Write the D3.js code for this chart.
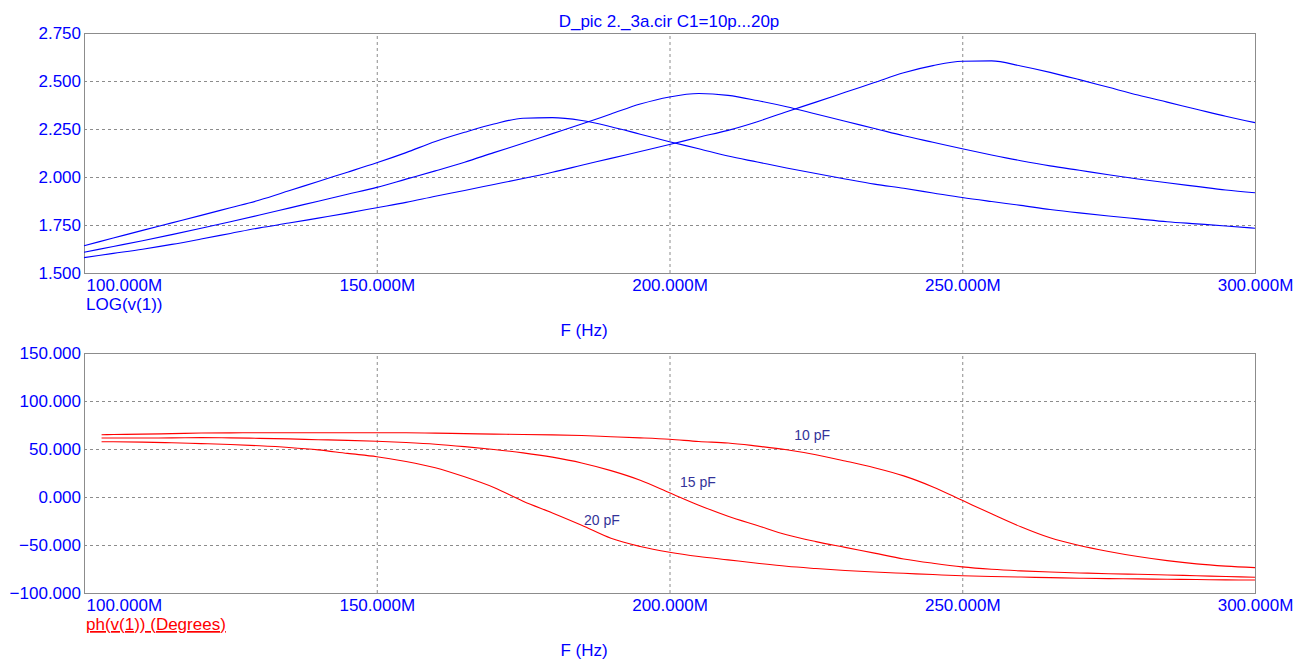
<!DOCTYPE html>
<html>
<head>
<meta charset="utf-8">
<script src="https://cdn.jsdelivr.net/npm/d3@7"></script>
<style>
    body { margin: 0; background: #fff; }
    svg { display: block; font-family: "Liberation Sans", Arial, sans-serif; }
</style>
</head>
<body>
<svg id="chart" width="1296" height="659"></svg>
<script>
/**
 * Data.
 */
const title = 'D_pic 2._3a.cir C1=10p...20p';

// Frequency in MHz
const freqMag = [100, 105, 110, 115, 120, 125, 130, 135, 140, 145, 150, 155, 160, 165, 170, 175, 180, 185, 190, 195,
    200, 205, 210, 215, 220, 225, 230, 235, 240, 245, 250, 255, 260, 265, 270, 275, 280, 285, 290, 295, 300];
const freqPhase = [103, 105, 110, 115, 120, 125, 130, 135, 140, 145, 150, 155, 160, 165, 170, 175, 180, 185, 190, 195,
    200, 205, 210, 215, 220, 225, 230, 235, 240, 245, 250, 255, 260, 265, 270, 275, 280, 285, 290, 295, 300];

// LOG(v(1))
const mag10 = [1.580, 1.602, 1.624, 1.649, 1.677, 1.706, 1.735, 1.760, 1.786, 1.812, 1.840, 1.868, 1.900, 1.930, 1.961,
    1.992, 2.025, 2.061, 2.097, 2.133, 2.169, 2.207, 2.243, 2.288, 2.340, 2.390, 2.441, 2.492, 2.543, 2.580, 2.603,
    2.605, 2.578, 2.545, 2.507, 2.467, 2.427, 2.390, 2.353, 2.316, 2.283];
const mag15 = [1.608, 1.638, 1.668, 1.700, 1.733, 1.767, 1.802, 1.838, 1.874, 1.910, 1.946, 1.989, 2.032, 2.077, 2.127,
    2.176, 2.226, 2.276, 2.328, 2.380, 2.417, 2.435, 2.425, 2.398, 2.366, 2.328, 2.290, 2.253, 2.215, 2.181, 2.147,
    2.115, 2.085, 2.058, 2.035, 2.012, 1.990, 1.970, 1.951, 1.932, 1.918];
const mag20 = [1.642, 1.682, 1.722, 1.761, 1.800, 1.840, 1.880, 1.928, 1.977, 2.025, 2.074, 2.127, 2.185, 2.233, 2.276,
    2.306, 2.309, 2.294, 2.262, 2.223, 2.184, 2.147, 2.109, 2.078, 2.047, 2.018, 1.990, 1.963, 1.941, 1.917, 1.893,
    1.872, 1.852, 1.831, 1.813, 1.797, 1.782, 1.767, 1.756, 1.745, 1.733];

// ph(v(1)) in degrees
const phase10 = [64.9, 65.1, 65.5, 66.0, 66.6, 66.8, 67.0, 67.0, 67.0, 67.0, 67.0, 66.9, 66.5, 66.0, 65.5, 65.1, 64.7,
    64.0, 62.8, 61.6, 60.1, 57.8, 56.3, 53.0, 49.2, 44.0, 37.5, 30.5, 22.0, 10.5, -3.5, -17.5, -31.0, -42.5, -50.5,
    -56.7, -62.0, -66.3, -69.7, -72.0, -73.6];
const phase15 = [61.5, 61.5, 61.5, 61.6, 61.8, 61.6, 61.1, 60.5, 59.7, 59.0, 58.0, 56.7, 55.0, 52.5, 49.5, 46.0, 41.5,
    35.5, 27.5, 17.5, 4.5, -8.5, -20.0, -29.7, -39.4, -46.5, -52.5, -58.5, -64.5, -69.0, -72.8, -75.3, -77.0, -78.2,
    -79.1, -79.9, -80.5, -81.2, -82.0, -82.8, -83.6];
const phase20 = [57.6, 57.5, 57.2, 56.5, 55.6, 54.7, 53.4, 51.6, 49.1, 45.4, 42.0, 37.0, 30.5, 21.0, 9.9, -4.4, -16.6,
    -29.4, -43.0, -51.5, -57.5, -62.0, -65.5, -69.0, -72.2, -74.5, -76.5, -78.2, -79.5, -80.8, -82.0, -82.8, -83.4,
    -84.0, -84.6, -85.0, -85.3, -85.7, -86.0, -86.3, -86.5];

// Ticks
const freqTicks = [100, 150, 200, 250, 300];
const magTicks = [1.5, 1.75, 2.0, 2.25, 2.5, 2.75];
const phaseTicks = [-100, -50, 0, 50, 100, 150];

// Curve annotations: [label, freq, phase]
const annotations = [['10 pF', 221.3, 59.4], ['15 pF', 201.8, 10.4], ['20 pF', 185.4, -29.2]];

/**
 * Visual configs.
 */
const left = 84, right = 1255,
    blue = '#0000ff', red = '#ff0000', frameColor = '#8c8c8c', gridColor = '#8c8c8c',
    fontSize = 17;

const svg = d3.select('#chart');

const xScale = d3.scaleLinear().domain([100, 300]).range([left, right]);

svg.append('text')
    .attr('x', 669).attr('y', 27)
    .attr('text-anchor', 'middle')
    .attr('fill', blue)
    .style('font-size', '17px')
    .text(title);

/**
 * Draws one plot panel with frame, grid, ticks and curves.
 */
function drawPanel(opts) {
    const yScale = d3.scaleLinear().domain(opts.domain).range([opts.bottom, opts.top]);
    const height = opts.bottom - opts.top;
    const g = svg.append('g');

    // Grid
    g.append('g')
        .attr('transform', 'translate(0,' + opts.bottom + ')')
        .call(d3.axisBottom(xScale).tickValues(freqTicks.slice(1, -1)).tickSize(-height).tickFormat(''))
        .call(s => s.select('.domain').remove())
        .call(s => s.selectAll('line').attr('stroke', gridColor).attr('stroke-dasharray', '3,3'));
    g.append('g')
        .attr('transform', 'translate(' + left + ',0)')
        .call(d3.axisLeft(yScale).tickValues(opts.ticks.slice(1, -1)).tickSize(-(right - left)).tickFormat(''))
        .call(s => s.select('.domain').remove())
        .call(s => s.selectAll('line').attr('stroke', gridColor).attr('stroke-dasharray', '3,3'));

    // Frame
    g.append('rect')
        .attr('x', left + 0.5).attr('y', opts.top + 0.5)
        .attr('width', right - left).attr('height', height)
        .attr('fill', 'none').attr('stroke', frameColor);

    // Y tick labels
    g.append('g')
        .attr('transform', 'translate(' + left + ',0)')
        .call(d3.axisLeft(yScale).tickValues(opts.ticks).tickSize(0).tickPadding(3).tickFormat(d3.format('.3f')))
        .call(s => s.select('.domain').remove())
        .call(s => s.selectAll('text')
            .attr('fill', blue)
            .style('font-family', '"Liberation Sans", Arial, sans-serif')
            .style('font-size', fontSize + 'px'));

    // X tick labels
    g.append('g')
        .attr('transform', 'translate(0,' + opts.bottom + ')')
        .call(d3.axisBottom(xScale).tickValues(freqTicks).tickSize(0).tickPadding(6).tickFormat(d => d3.format('.3f')(d) + 'M'))
        .call(s => s.select('.domain').remove())
        .call(s => s.selectAll('text')
            .attr('fill', blue)
            .style('font-family', '"Liberation Sans", Arial, sans-serif')
            .style('font-size', fontSize + 'px')
            .attr('text-anchor', (d, i) => i === 0 ? 'start' : 'middle')
            .attr('x', (d, i) => i === 0 ? 2 : 0));

    // Curves
    const line = d3.line()
        .x(d => xScale(d[0]))
        .y(d => yScale(d[1]))
        .curve(d3.curveMonotoneX);

    g.append('g').selectAll('path')
        .data(opts.series)
        .join('path')
        .attr('d', s => line(opts.freq.map((f, i) => [f, s[i]])))
        .attr('fill', 'none')
        .attr('stroke', opts.color)
        .attr('stroke-width', 1.1);

    // Axis titles
    const ylab = g.append('text')
        .attr('x', left + 2).attr('y', opts.bottom + 37)
        .attr('fill', opts.labelColor)
        .style('font-size', fontSize + 'px')
        .text(opts.label);
    if (opts.underline) ylab.attr('text-decoration', 'underline');

    g.append('text')
        .attr('x', 584).attr('y', opts.bottom + 63)
        .attr('text-anchor', 'middle')
        .attr('fill', blue)
        .style('font-size', fontSize + 'px')
        .text('F (Hz)');

    return yScale;
}

drawPanel({
    top: 33, bottom: 273, domain: [1.5, 2.75], ticks: magTicks,
    freq: freqMag, series: [mag10, mag15, mag20], color: blue,
    label: 'LOG(v(1))', labelColor: blue
});

const yPhase = drawPanel({
    top: 353, bottom: 593, domain: [-100, 150], ticks: phaseTicks,
    freq: freqPhase, series: [phase10, phase15, phase20], color: red,
    label: 'ph(v(1)) (Degrees)', labelColor: red, underline: true
});

svg.append('g').selectAll('text')
    .data(annotations)
    .join('text')
    .attr('x', d => xScale(d[1]))
    .attr('y', d => yPhase(d[2]))
    .attr('fill', '#333399')
    .style('font-size', '14px')
    .text(d => d[0]);
</script>
</body>
</html>
